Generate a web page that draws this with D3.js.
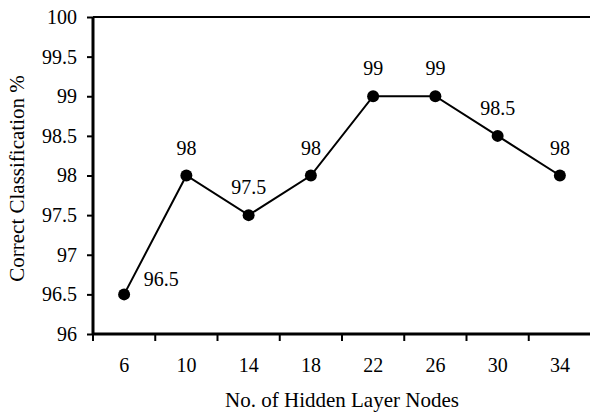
<!DOCTYPE html>
<html><head><meta charset="utf-8">
<script src="https://cdn.jsdelivr.net/npm/d3@7"></script>
<style>body{margin:0;background:#fff}svg{display:block}</style>
</head><body><svg id="c" width="590" height="414"></svg>
<script>
const categories = ["6","10","14","18","22","26","30","34"];
const values = [96.5, 98, 97.5, 98, 99, 99, 98.5, 98];
const yTicks = [96, 96.5, 97, 97.5, 98, 98.5, 99, 99.5, 100];

const FONT = "'Liberation Serif', 'Times New Roman', Times, serif";
const FS = 20;
const svg = d3.select("#c");
const L = 93, R = 591, T = 17, B = 334;
const x = d3.scaleBand().domain(categories).range([L, R]);
const y = d3.scaleLinear().domain([96, 100]).range([B, T]);

svg.append("line").attr("x1", L).attr("x2", R).attr("y1", T).attr("y2", T)
  .attr("stroke", "#000").attr("stroke-width", 2);

const yAxis = svg.append("g").attr("transform", `translate(${L},0)`)
  .call(d3.axisLeft(y).tickValues(yTicks).tickSize(6).tickPadding(10).tickFormat(d => d3.format("")(d)));
yAxis.attr("font-family", FONT).attr("font-size", FS);
yAxis.select(".domain").attr("stroke-width", 3).attr("d", `M0,${T}V${B}`);
yAxis.selectAll(".tick line").attr("stroke-width", 2);
yAxis.selectAll("text").attr("fill", "#000").style("font-family", FONT).style("font-size", FS + "px");

const xAxis = svg.append("g").attr("transform", `translate(0,${B})`)
  .call(d3.axisBottom(x).tickSize(0).tickPadding(24));
xAxis.attr("font-family", FONT).attr("font-size", FS);
xAxis.select(".domain").attr("stroke-width", 3).attr("d", `M${L},0H${R}`);
xAxis.selectAll("text").attr("fill", "#000").style("font-family", FONT).style("font-size", FS + "px");
const bounds = categories.map(c => x(c));
xAxis.selectAll(".btick").data(bounds).enter().append("line")
  .attr("x1", d => d).attr("x2", d => d).attr("y1", 0).attr("y2", 7)
  .attr("stroke", "#000").attr("stroke-width", 2);

const cx = (d, i) => x(categories[i]) + x.bandwidth() / 2;
const line = d3.line().x((d, i) => cx(d, i)).y(d => y(d));
svg.append("path").datum(values).attr("d", line).attr("fill", "none")
  .attr("stroke", "#000").attr("stroke-width", 2);
svg.selectAll(".dot").data(values).enter().append("circle")
  .attr("cx", cx).attr("cy", d => y(d)).attr("r", 6).attr("fill", "#000");

svg.selectAll(".lbl").data(values).enter().append("text")
  .attr("x", (d, i) => i === 0 ? cx(d, i) + 37 : cx(d, i))
  .attr("y", (d, i) => i === 0 ? y(d) - 8 : y(d) - 21)
  .attr("text-anchor", "middle").style("font-family", FONT).style("font-size", FS + "px")
  .text(d => d3.format("")(d));

svg.append("text").attr("x", 342).attr("y", 407).attr("text-anchor", "middle")
  .style("font-family", FONT).style("font-size", "21px").text("No. of Hidden Layer Nodes");
svg.append("text").attr("transform", `translate(24,${(T + B) / 2 + 3}) rotate(-90)`)
  .attr("text-anchor", "middle").style("font-family", FONT).style("font-size", "21px").text("Correct Classification %");
</script></body></html>
